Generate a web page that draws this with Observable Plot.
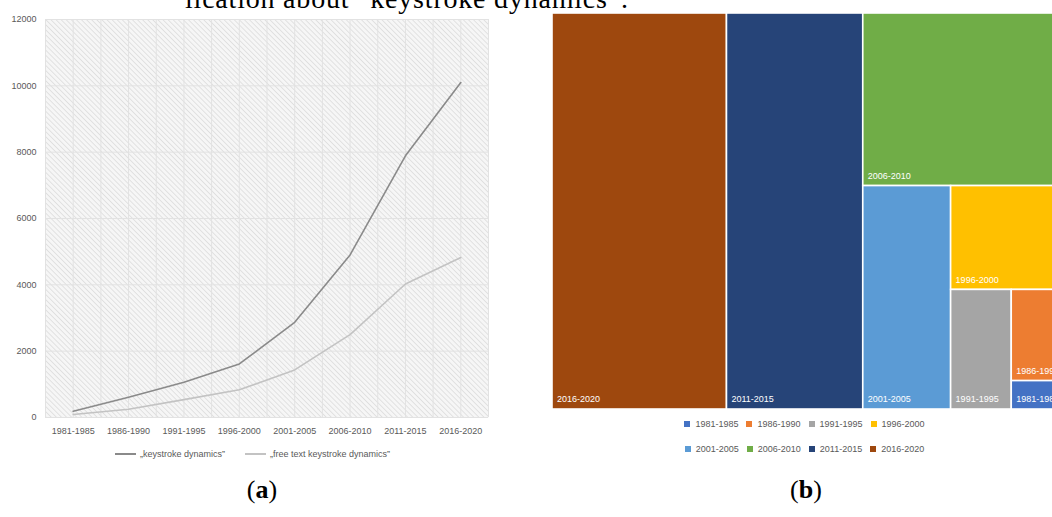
<!DOCTYPE html>
<html>
<head>
<meta charset="utf-8">
<script src="https://cdn.jsdelivr.net/npm/d3@7"></script>
<script src="https://cdn.jsdelivr.net/npm/@observablehq/plot@0.6"></script>
<style>
  html, body { margin: 0; padding: 0; width: 1052px; height: 517px; overflow: hidden; background: #fff; }
  #root { position: relative; width: 1052px; height: 517px; overflow: hidden; }
  .abs { position: absolute; }
  .legend { font-family: "Liberation Sans", Arial, sans-serif; font-size: 9px; color: #595959; display: flex; align-items: center; white-space: nowrap; }
  .lg-line { display: inline-block; width: 21px; height: 2px; margin-right: 4px; }
  .lg-item { display: flex; align-items: center; }
  .sq { display: inline-block; width: 6px; height: 6px; margin-right: 5px; }
</style>
</head>
<body>
<div id="root"></div>
<script>
// ---------- data ----------
const periods = ["1981-1985", "1986-1990", "1991-1995", "1996-2000", "2001-2005", "2006-2010", "2011-2015", "2016-2020"];
const keystroke = [190, 610, 1060, 1615, 2870, 4900, 7890, 10100];
const freeText = [90, 250, 540, 835, 1435, 2500, 4025, 4825];
const seriesNames = ["„keystroke dynamics”", "„free text keystroke dynamics”"];
const seriesColors = ["#8a8a8a", "#c3c3c3"];
const yTicks = [0, 2000, 4000, 6000, 8000, 10000, 12000];
const treemapColors = ["#4472C4", "#ED7D31", "#A5A5A5", "#FFC000", "#5B9BD5", "#70AD47", "#264478", "#9E480E"];
const titleText = "lication about “keystroke dynamics”.";
const captionLetters = ["a", "b"];

const root = document.getElementById("root");

// ---------- (a) line chart ----------
const lineData = [];
periods.forEach((p, i) => {
  lineData.push({i, period: p, value: keystroke[i], series: seriesNames[0]});
  lineData.push({i, period: p, value: freeText[i], series: seriesNames[1]});
});

const chartA = Plot.plot({
  width: 500,
  height: 447,
  marginLeft: 45,
  marginRight: 12,
  marginTop: 19,
  marginBottom: 30,
  style: {fontFamily: "'Liberation Sans', Arial, sans-serif", fontSize: "9px", color: "#595959", background: "transparent", maxWidth: "none"},
  x: {domain: [-0.5, periods.length - 0.5], ticks: d3.range(periods.length), tickFormat: i => periods[i], tickSize: 0, tickPadding: 10, label: null},
  y: {domain: [0, 12000], ticks: yTicks, tickSize: 0, tickPadding: 9, label: null, tickFormat: d => String(d)},
  color: {domain: seriesNames, range: seriesColors},
  marks: [
    Plot.frame({fill: "url(#hatch)", stroke: "none"}),
    Plot.ruleY(yTicks, {stroke: "#e2e2e2", strokeWidth: 1}),
    Plot.ruleX(d3.range(-0.5, periods.length, 0.5), {stroke: "#e2e2e2", strokeWidth: 1}),
    Plot.line(lineData, {x: "i", y: "value", z: "series", stroke: "series", strokeWidth: 1.6})
  ]
});
d3.select(chartA).insert("defs", ":first-child").html(
  '<pattern id="hatch" width="3.6" height="3.6" patternUnits="userSpaceOnUse" patternTransform="rotate(-45)">' +
  '<rect width="3.6" height="3.6" fill="#f6f6f6"/>' +
  '<line x1="0" y1="0" x2="0" y2="3.6" stroke="#d4d4d4" stroke-width="1.2"/></pattern>'
);
const wrapA = document.createElement("div");
wrapA.className = "abs";
wrapA.style.left = "0px"; wrapA.style.top = "0px";
wrapA.appendChild(chartA);
root.appendChild(wrapA);

// legend (a)
const legA = document.createElement("div");
legA.className = "abs legend";
legA.style.left = "115px"; legA.style.top = "448px"; legA.style.height = "12px";
seriesNames.forEach((name, k) => {
  const it = document.createElement("div");
  it.className = "lg-item";
  if (k > 0) it.style.marginLeft = "20px";
  const ln = document.createElement("span");
  ln.className = "lg-line"; ln.style.background = seriesColors[k];
  const tx = document.createElement("span"); tx.textContent = name;
  it.appendChild(ln); it.appendChild(tx);
  legA.appendChild(it);
});
root.appendChild(legA);

// ---------- (b) treemap ----------
const W = 505, H = 396;
// Excel-like strip tiling: each node takes a full strip, column if the free area is not too tall
function excelTile(parent, x0, y0, x1, y1) {
  const nodes = parent.children;
  let rest = parent.value;
  nodes.forEach((node, k) => {
    const w = x1 - x0, h = y1 - y0;
    const last = k === nodes.length - 1;
    if (w >= 0.6 * h) {
      const cw = last ? w : w * node.value / rest;
      node.x0 = x0; node.x1 = x0 + cw; node.y0 = y0; node.y1 = y1;
      x0 += cw;
    } else {
      const ch = last ? h : h * node.value / rest;
      node.x0 = x0; node.x1 = x1; node.y0 = y0; node.y1 = y0 + ch;
      y0 += ch;
    }
    rest -= node.value;
  });
}
const hier = d3.hierarchy({children: periods.map((p, i) => ({name: p, value: keystroke[i], color: treemapColors[i]}))})
  .sum(d => d.value || 0)
  .sort((a, b) => b.value - a.value);
d3.treemap().size([W, H]).tile(excelTile)(hier);
const cells = hier.leaves().map(d => ({name: d.data.name, color: d.data.color, x1: d.x0, x2: d.x1, y1: d.y0, y2: d.y1}));

const chartB = Plot.plot({
  width: W,
  height: H,
  margin: 0,
  style: {fontFamily: "'Liberation Sans', Arial, sans-serif", background: "transparent", maxWidth: "none", overflow: "visible"},
  x: {domain: [0, W], axis: null},
  y: {domain: [0, H], range: [0, H], axis: null},
  color: {type: "identity"},
  marks: [
    Plot.rect(cells, {x1: "x1", x2: "x2", y1: "y1", y2: "y2", fill: "color", stroke: "white", strokeWidth: 1.6}),
    Plot.text(cells, {x: "x1", y: "y2", text: "name", textAnchor: "start", dx: 4.5, dy: -10, fill: "white", fontSize: 9})
  ]
});
const wrapB = document.createElement("div");
wrapB.className = "abs";
wrapB.style.left = "552px"; wrapB.style.top = "13px"; wrapB.style.width = W + "px";
wrapB.appendChild(chartB);
root.appendChild(wrapB);

// legend (b): two rows of four
[periods.slice(0, 4), periods.slice(4)].forEach((row, r) => {
  const lg = document.createElement("div");
  lg.className = "abs legend";
  lg.style.left = "552px"; lg.style.width = W + "px"; lg.style.justifyContent = "center";
  lg.style.top = (418 + r * 25) + "px"; lg.style.height = "12px";
  row.forEach((p, k) => {
    const idx = periods.indexOf(p);
    const it = document.createElement("div");
    it.className = "lg-item";
    if (k > 0) it.style.marginLeft = "8px";
    const sq = document.createElement("span");
    sq.className = "sq"; sq.style.background = treemapColors[idx];
    const tx = document.createElement("span"); tx.textContent = p;
    it.appendChild(sq); it.appendChild(tx);
    lg.appendChild(it);
  });
  root.appendChild(lg);
});

// ---------- page text (title fragment and captions) ----------
const over = d3.select(root).append("svg")
  .attr("class", "abs")
  .attr("width", 1052).attr("height", 517)
  .style("left", "0px").style("top", "0px").style("pointer-events", "none");
over.append("text")
  .attr("x", 185).attr("y", 8)
  .attr("font-family", "'Liberation Serif', 'DejaVu Serif', serif")
  .attr("font-size", 28).attr("fill", "#000")
  .attr("textLength", 443).attr("lengthAdjust", "spacing")
  .text(titleText);
const capX = [262, 806];
captionLetters.forEach((c, k) => {
  const t = over.append("text")
    .attr("x", capX[k]).attr("y", 498)
    .attr("text-anchor", "middle")
    .attr("font-family", "'Liberation Serif', 'DejaVu Serif', serif")
    .attr("font-size", 26).attr("fill", "#000");
  t.append("tspan").text("(");
  t.append("tspan").attr("font-weight", "bold").text(c);
  t.append("tspan").text(")");
});
</script>
</body>
</html>
